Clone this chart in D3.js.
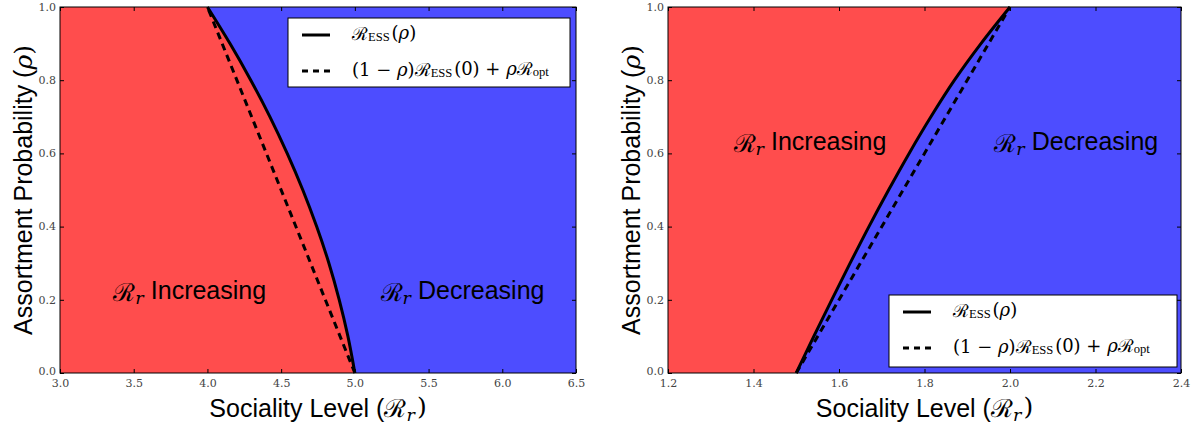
<!DOCTYPE html>
<html><head><meta charset="utf-8">
<script src="https://cdn.jsdelivr.net/npm/d3@7"></script>
<style>
body{margin:0;background:#fff;}
svg text{font-kerning:normal;}
.tk text{font-family:'DejaVu Serif','Liberation Serif',serif !important;}
</style>
</head><body>
<svg id="chart" width="1198" height="425"></svg>
<script>
// ---------- data ----------
const rho = [0.0,0.1,0.2,0.3,0.4,0.5,0.6,0.7,0.8,0.9,1.0];
// left panel: R_ESS(rho)
const leftEss = [5.000,4.953,4.894,4.824,4.741,4.647,4.541,4.424,4.294,4.153,4.000];
// left panel: (1-rho) R_ESS(0) + rho R_opt  (endpoints)
const leftLinRho = [0,1];
const leftLin = [5.0,4.0];
// right panel: R_ESS(rho)
const rightEss = [1.500,1.541,1.583,1.626,1.670,1.716,1.764,1.815,1.870,1.932,2.000];
const rightLinRho = [0,1];
const rightLin = [1.5,2.0];
// tick values
const leftXTicks = [3.0,3.5,4.0,4.5,5.0,5.5,6.0,6.5];
const rightXTicks = [1.2,1.4,1.6,1.8,2.0,2.2,2.4];
const yTicks = [0.0,0.2,0.4,0.6,0.8,1.0];

const RED = "rgb(255,77,77)", BLUE = "rgb(77,77,255)";
const svg = d3.select("#chart");
const MATH = "'DejaVu Serif', 'Liberation Serif', serif";
const SANS = "'Liberation Sans', Arial, sans-serif";
const SUBF = "'Liberation Serif', serif";

function calR(sel, sub, subFont){
  sel.append("tspan").attr("font-family", MATH).attr("font-style","normal").text("ℛ");
  sel.append("tspan").attr("font-family", subFont||MATH).attr("font-style", subFont?"normal":"italic")
     .attr("font-size","0.7em").attr("dy","0.25em").text(sub);
  sel.append("tspan").attr("dy","-0.25em").text("\u200A");
}

function panel(cfg){
  const g = svg.append("g");
  const x = d3.scaleLinear().domain(cfg.xDomain).range([cfg.x0, cfg.x1]);
  const y = d3.scaleLinear().domain([0,1]).range([373, 7]);
  const pts = rho.map((r,i)=>({r, v:cfg.ess[i]}));
  g.append("rect").attr("x",x.range()[0]).attr("y",y(1)).attr("width",x.range()[1]-x.range()[0])
    .attr("height",y(0)-y(1)).attr("fill",BLUE);
  const area = d3.area().y(d=>y(d.r)).x0(x(cfg.xDomain[0])).x1(d=>x(d.v)).curve(d3.curveMonotoneY);
  g.append("path").datum(pts).attr("d",area).attr("fill",RED);
  cfg.labels.forEach(l=>{
    const t = g.append("text").attr("x",x(l.x)).attr("y",y(l.y)).attr("text-anchor","middle")
      .attr("font-family",SANS).attr("font-size",25).attr("fill","#000").attr("dominant-baseline","middle");
    calR(t,"r");
    t.append("tspan").attr("dx",5).text(l.t);
  });
  const line = d3.line().y(d=>y(d.r)).x(d=>x(d.v)).curve(d3.curveMonotoneY);
  const linPts = cfg.linRho.map((r,i)=>({r, v:cfg.lin[i]}));
  g.append("path").datum(linPts).attr("d",line).attr("fill","none").attr("stroke","#000")
    .attr("stroke-width",3).attr("stroke-dasharray","7,5");
  g.append("path").datum(pts).attr("d",line).attr("fill","none").attr("stroke","#000").attr("stroke-width",3);
  g.append("rect").attr("x",x.range()[0]).attr("y",y(1)).attr("width",x.range()[1]-x.range()[0])
    .attr("height",y(0)-y(1)).attr("fill","none").attr("stroke","#000").attr("stroke-width",1);
  const fmt = d3.format(".1f");
  const xb = g.append("g").attr("class","tk").attr("transform",`translate(0,${y(0)})`)
    .call(d3.axisBottom(x).tickValues(cfg.xTicks).tickSizeInner(-4).tickSizeOuter(0).tickPadding(6).tickFormat(fmt));
  const xt = g.append("g").attr("transform",`translate(0,${y(1)})`)
    .call(d3.axisTop(x).tickValues(cfg.xTicks).tickSizeInner(-4).tickSizeOuter(0).tickFormat(""));
  const yl = g.append("g").attr("class","tk").attr("transform",`translate(${x.range()[0]},0)`)
    .call(d3.axisLeft(y).tickValues(yTicks).tickSizeInner(-4).tickSizeOuter(0).tickPadding(4).tickFormat(fmt));
  const yr = g.append("g").attr("transform",`translate(${x.range()[1]},0)`)
    .call(d3.axisRight(y).tickValues(yTicks).tickSizeInner(-4).tickSizeOuter(0).tickFormat(""));
  [xb,xt,yl,yr].forEach(a=>{
    a.select(".domain").remove();
    a.selectAll("line").attr("stroke","#000");
    a.selectAll("text").attr("font-size",11).attr("fill","#444");
  });
  xb.selectAll("text").attr("dy","0.75em");
  yl.selectAll("text").attr("dy","0.3em");
  yl.selectAll("text").filter(d=>d===0).attr("dy","0.1em");
  const cx = (x.range()[0]+x.range()[1])/2;
  const xtTitle = g.append("text").attr("x",cx).attr("y",417).attr("text-anchor","middle")
    .attr("font-family",SANS).attr("font-size",25).attr("fill","#000");
  xtTitle.append("tspan").text("Sociality Level (");
  calR(xtTitle,"r");
  xtTitle.append("tspan").attr("font-family",MATH).text(")");
  const ytTitle = g.append("text").attr("transform",`translate(${cfg.yTitleX},190) rotate(-90)`)
    .attr("text-anchor","middle").attr("font-family",SANS).attr("font-size",25).attr("fill","#000");
  ytTitle.append("tspan").text("Assortment Probability (");
  ytTitle.append("tspan").attr("font-family",MATH).attr("font-style","italic").text("ρ");
  ytTitle.append("tspan").attr("font-family",MATH).text(")");
  const L = cfg.legend;
  const lg = g.append("g");
  lg.append("rect").attr("x",L.x).attr("y",L.y).attr("width",L.w).attr("height",L.h)
    .attr("fill","#fff").attr("stroke","#000").attr("stroke-width",1);
  const rows = [{dash:null},{dash:"6,5"}];
  rows.forEach((r,i)=>{
    const yy = L.y + 17 + i*36;
    lg.append("line").attr("x1",L.x+14).attr("x2",L.x+42).attr("y1",yy).attr("y2",yy)
      .attr("stroke","#000").attr("stroke-width",3).attr("stroke-dasharray",r.dash);
    const t = lg.append("text").attr("x",L.x+64).attr("y",yy).attr("dominant-baseline","middle")
      .attr("font-family",MATH).attr("font-size",18).attr("fill","#000");
    if(i===0){
      calR(t,"ESS",SUBF);
      t.append("tspan").text("(");
      t.append("tspan").attr("font-style","italic").text("ρ");
      t.append("tspan").text(")");
    } else {
      t.append("tspan").text("(1 − ");
      t.append("tspan").attr("font-style","italic").text("ρ");
      t.append("tspan").text(")");
      calR(t,"ESS",SUBF);
      t.append("tspan").text("(0) + ");
      t.append("tspan").attr("font-style","italic").text("ρ");
      calR(t,"opt",SUBF);
    }
  });
}

panel({xDomain:[3.0,6.5], x0:60, x1:576, ess:leftEss, linRho:leftLinRho, lin:leftLin,
  xTicks:leftXTicks, yTitleX:32,
  labels:[{x:3.88,y:0.215,t:"Increasing"},{x:5.73,y:0.215,t:"Decreasing"}],
  legend:{x:288,y:18,w:282,h:69}});
panel({xDomain:[1.2,2.4], x0:668, x1:1181, ess:rightEss, linRho:rightLinRho, lin:rightLin,
  xTicks:rightXTicks, yTitleX:640,
  labels:[{x:1.532,y:0.622,t:"Increasing"},{x:2.155,y:0.622,t:"Decreasing"}],
  legend:{x:889,y:295,w:288,h:72}});
</script>
</body></html>
